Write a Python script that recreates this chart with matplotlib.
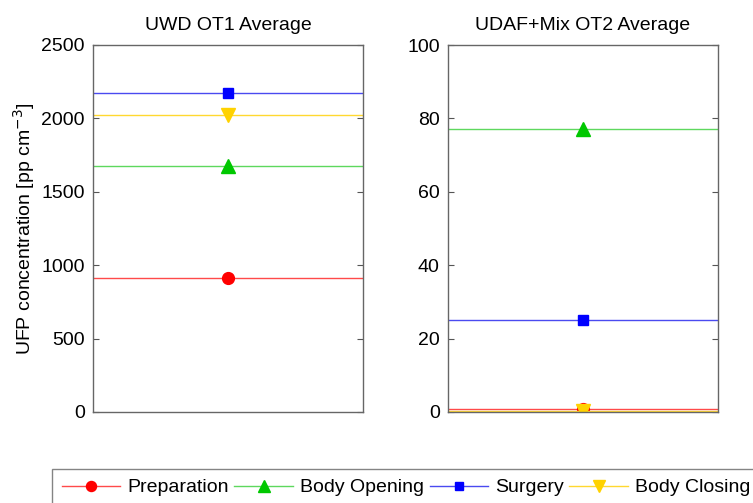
import matplotlib
matplotlib.use("Agg")
import matplotlib.pyplot as plt

plt.rcParams['font.family'] = ['Liberation Sans', 'DejaVu Sans']

phases = ["Preparation", "Body Opening", "Surgery", "Body Closing"]
ot1_values = [915, 1675, 2170, 2025]
ot2_values = [0.7, 77.0, 25.1, 0.25]
titles = ["UWD OT1 Average", "UDAF+Mix OT2 Average"]
ylims = [(0, 2500), (0, 100)]
yticks = [[0, 500, 1000, 1500, 2000, 2500], [0, 20, 40, 60, 80, 100]]

markers = ["o", "^", "s", "v"]
marker_colors = ["#ff0000", "#00c800", "#0000ff", "#ffd200"]
line_colors = ["#ff4a4a", "#5ed85e", "#4a4af0", "#ffd830"]
msizes = [8.5, 9.5, 7, 9.5]

fig = plt.figure(figsize=(7.53, 5.03), dpi=100)
W, H = 753, 503
axes_px = [(93, 45, 363, 412), (448, 45, 718, 412)]

handles = []
for i, (vals, title, yl, yt) in enumerate(zip([ot1_values, ot2_values], titles, ylims, yticks)):
    x0, y0, x1, y1 = axes_px[i]
    ax = fig.add_axes([x0 / W, 1 - y1 / H, (x1 - x0) / W, (y1 - y0) / H])
    hs = []
    for j, v in enumerate(vals):
        h, = ax.plot([0, 0.5, 1], [v, v, v], color=line_colors[j], lw=1.0,
                     marker=markers[j], markevery=[1], markersize=msizes[j],
                     markerfacecolor=marker_colors[j], markeredgecolor=marker_colors[j],
                     label=phases[j])
        hs.append(h)
    if i == 0:
        handles = hs
    ax.set_xlim(0, 1)
    ax.set_ylim(*yl)
    ax.set_yticks(yt)
    ax.set_xticks([])
    ax.tick_params(axis='y', direction='in', right=True, left=True, labelsize=14,
                   length=4, color='#555555', pad=6)
    for s in ax.spines.values():
        s.set_color('#666666')
        s.set_linewidth(1.0)
    ax.set_title(title, fontsize=14, pad=11)
    if i == 0:
        ax.set_ylabel(r"UFP concentration [pp cm$^{-3}$]", fontsize=14, labelpad=3)

leg = fig.legend(handles=handles, labels=phases, loc='upper left',
                 bbox_to_anchor=(52 / W, 1 - 469 / H), ncol=4, fontsize=14,
                 frameon=True, fancybox=False, handlelength=3.0, handletextpad=0.36,
                 columnspacing=0.3, borderpad=0.5, borderaxespad=0, markerscale=0.85)
leg.get_frame().set_edgecolor('#666666')
leg.get_frame().set_linewidth(1.0)

fig.savefig("out.png", dpi=100)
